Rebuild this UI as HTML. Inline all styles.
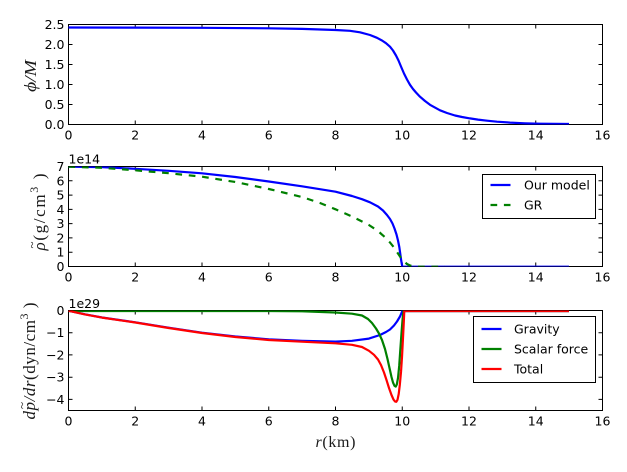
<!DOCTYPE html>
<html><head><meta charset="utf-8"><style>
html,body{margin:0;padding:0;background:#fff;}
svg{display:block;}
.tk{font-family:"DejaVu Sans","Liberation Sans",sans-serif;font-size:12.5px;fill:#000;}
.ml{font-family:"Liberation Serif",serif;fill:#1a1a1a;}
</style></head><body>
<svg width="627" height="472" viewBox="0 0 627 472" xmlns="http://www.w3.org/2000/svg">
<defs>
<clipPath id="ca"><rect x="68.5" y="24.5" width="534" height="100"/></clipPath>
<clipPath id="cb"><rect x="68.5" y="166.5" width="534" height="100"/></clipPath>
<clipPath id="cc"><rect x="68.5" y="310.5" width="534" height="100"/></clipPath>
</defs>
<rect width="627" height="472" fill="#fff"/>

<!-- ===== Panel A ===== -->
<g stroke="#000" stroke-width="1" fill="none">
<rect x="68.5" y="24.5" width="534" height="100"/>
<path d="M68.5,124.5v-4M135.25,124.5v-4M202,124.5v-4M268.75,124.5v-4M335.5,124.5v-4M402.25,124.5v-4M469,124.5v-4M535.75,124.5v-4M602.5,124.5v-4
M68.5,24.5v4M135.25,24.5v4M202,24.5v4M268.75,24.5v4M335.5,24.5v4M402.25,24.5v4M469,24.5v4M535.75,24.5v4M602.5,24.5v4
M68.5,104.5h4M68.5,84.5h4M68.5,64.5h4M68.5,44.5h4M602.5,104.5h-4M602.5,84.5h-4M602.5,64.5h-4M602.5,44.5h-4"/>
</g>
<g class="tk" text-anchor="end">
<text x="64.5" y="129">0.0</text><text x="64.5" y="109">0.5</text><text x="64.5" y="89">1.0</text>
<text x="64.5" y="69">1.5</text><text x="64.5" y="49">2.0</text><text x="64.5" y="29">2.5</text>
</g>
<g class="tk" text-anchor="middle">
<text x="68.5" y="139.5">0</text><text x="135.25" y="139.5">2</text><text x="202" y="139.5">4</text>
<text x="268.75" y="139.5">6</text><text x="335.5" y="139.5">8</text><text x="402.25" y="139.5">10</text>
<text x="469" y="139.5">12</text><text x="535.75" y="139.5">14</text><text x="602.5" y="139.5">16</text>
</g>
<g clip-path="url(#ca)" fill="none" stroke-width="2.2" stroke-linejoin="round">
<path stroke="#0000ff" d="M68.5,27.5 L135,27.6 L202,27.8 L268.8,28.3 L302,28.9 L335.5,30 L350,30.8 L360,32.3 L370,35 L377,37.8 L382,40.5 L386,43.2 L390,46.7 L393,50.5 L396,55.5 L398.5,60.5 L401,66.5 L404,73.5 L407,79.5 L410,84.8 L413,89 L416,92.5 L420,96.7 L425,101 L430,104.8 L435,107.6 L440,110.3 L447,113 L455,115.5 L462,117 L470,118.4 L478,119.6 L487,120.7 L497,121.7 L510,122.6 L525,123.3 L540,123.7 L555,123.9 L569,124"/>
</g>
<text class="ml" font-style="italic" font-size="17" text-anchor="middle" transform="translate(36,76) rotate(-90)" textLength="32" lengthAdjust="spacingAndGlyphs">ϕ/M</text>

<!-- ===== Panel B ===== -->
<g stroke="#000" stroke-width="1" fill="none">
<rect x="68.5" y="166.5" width="534" height="100"/>
<path d="M68.5,266.5v-4M135.25,266.5v-4M202,266.5v-4M268.75,266.5v-4M335.5,266.5v-4M402.25,266.5v-4M469,266.5v-4M535.75,266.5v-4M602.5,266.5v-4
M68.5,166.5v4M135.25,166.5v4M202,166.5v4M268.75,166.5v4M335.5,166.5v4M402.25,166.5v4M469,166.5v4M535.75,166.5v4M602.5,166.5v4
M68.5,252.21h4M68.5,237.93h4M68.5,223.64h4M68.5,209.36h4M68.5,195.07h4M68.5,180.79h4
M602.5,252.21h-4M602.5,237.93h-4M602.5,223.64h-4M602.5,209.36h-4M602.5,195.07h-4M602.5,180.79h-4"/>
</g>
<g class="tk" text-anchor="end">
<text x="64.5" y="271">0</text><text x="64.5" y="256.7">1</text><text x="64.5" y="242.4">2</text>
<text x="64.5" y="228.1">3</text><text x="64.5" y="213.9">4</text><text x="64.5" y="199.6">5</text>
<text x="64.5" y="185.3">6</text><text x="64.5" y="171">7</text>
</g>
<text class="tk" x="68.5" y="163.5">1e14</text>
<g class="tk" text-anchor="middle">
<text x="68.5" y="281.5">0</text><text x="135.25" y="281.5">2</text><text x="202" y="281.5">4</text>
<text x="268.75" y="281.5">6</text><text x="335.5" y="281.5">8</text><text x="402.25" y="281.5">10</text>
<text x="469" y="281.5">12</text><text x="535.75" y="281.5">14</text><text x="602.5" y="281.5">16</text>
</g>
<g clip-path="url(#cb)" fill="none" stroke-width="2.2" stroke-linejoin="round">
<path stroke="#0000ff" d="M68.5,166.7 L102,167.2 L135.3,168.8 L168.6,170.8 L202,173.3 L235.4,177 L268.8,181.5 L302,186.3 L335.5,191.7 L352,196 L362,199.2 L370,202.3 L378,206.5 L383,210.5 L387,215 L390,219 L392.5,223.5 L394.5,228.5 L396.5,234.5 L398,240.5 L399.3,247 L400.3,254 L401.2,260.5 L402.3,266.7 L569,266.7"/>
<path stroke="#008000" stroke-dasharray="6.7,6.7" d="M68.5,166.7 L102,167.8 L135.3,170.3 L168.6,173.2 L202,176.7 L235.4,182 L268.8,189 L302,197 L320,203 L335.5,209.3 L352,216.5 L368.9,225 L378,231 L385,237.3 L390,242.5 L394,247.5 L398,253.5 L401,258 L404,261.5 L407,264 L410,265.5 L414,266.3 L420,266.7 L445,266.7"/>
</g>
<rect x="482.5" y="174.5" width="113" height="44" fill="#fff" stroke="#000" stroke-width="1"/>
<path d="M490.5,185H510.5" stroke="#0000ff" stroke-width="2.2"/>
<path d="M490.5,205H510.5" stroke="#008000" stroke-width="2.2" stroke-dasharray="6.7,6.7"/>
<text class="tk" x="524" y="189.5">Our model</text>
<text class="tk" x="524" y="209.5">GR</text>
<g transform="translate(45,212) rotate(-90)">
<text class="ml" font-size="17" text-anchor="middle" x="0" y="0" textLength="77" lengthAdjust="spacing"><tspan font-style="italic">ρ</tspan>(g/cm<tspan font-size="12" dy="-7">3</tspan><tspan dy="7"> )</tspan></text>
<text class="ml" font-size="13" x="-36.5" y="-9">~</text>
</g>

<!-- ===== Panel C ===== -->
<g stroke="#000" stroke-width="1" fill="none">
<rect x="68.5" y="310.5" width="534" height="100"/>
<path d="M68.5,410.5v-4M135.25,410.5v-4M202,410.5v-4M268.75,410.5v-4M335.5,410.5v-4M402.25,410.5v-4M469,410.5v-4M535.75,410.5v-4M602.5,410.5v-4
M68.5,310.5v4M135.25,310.5v4M202,310.5v4M268.75,310.5v4M335.5,310.5v4M402.25,310.5v4M469,310.5v4M535.75,310.5v4M602.5,310.5v4
M68.5,332.7h4M68.5,354.9h4M68.5,377.2h4M68.5,399.4h4
M602.5,332.7h-4M602.5,354.9h-4M602.5,377.2h-4M602.5,399.4h-4"/>
</g>
<g class="tk" text-anchor="end">
<text x="64.5" y="315">0</text><text x="64.5" y="337.2">−1</text><text x="64.5" y="359.4">−2</text>
<text x="64.5" y="381.7">−3</text><text x="64.5" y="403.9">−4</text>
</g>
<text class="tk" x="68.5" y="308">1e29</text>
<g class="tk" text-anchor="middle">
<text x="68.5" y="425.5">0</text><text x="135.25" y="425.5">2</text><text x="202" y="425.5">4</text>
<text x="268.75" y="425.5">6</text><text x="335.5" y="425.5">8</text><text x="402.25" y="425.5">10</text>
<text x="469" y="425.5">12</text><text x="535.75" y="425.5">14</text><text x="602.5" y="425.5">16</text>
</g>
<g clip-path="url(#cc)" fill="none" stroke-width="2.2" stroke-linejoin="round">
<path stroke="#0000ff" d="M68.5,310.8 L85,314.3 L102,317.5 L135.3,322.3 L168.6,327.7 L202,332.7 L235.4,336.5 L268.8,339.3 L302,340.8 L335.5,341.6 L352,340.8 L368.9,338.6 L380,335 L386,332 L390,329.5 L394,325.5 L397,321.5 L400,316.5 L402.3,311 L569,311"/>
<path stroke="#008000" d="M68.5,311 L268.8,311 L302,311.3 L335.5,312.5 L352,313.7 L362,315.5 L368,319 L372,323 L376,328.5 L379,333.5 L382,340 L385,349 L387.5,359 L389.5,368 L391.5,377 L393,382.5 L394.5,385.8 L395.7,386.6 L396.8,384.5 L398,378 L399.2,366 L400.3,350 L401.5,333 L402.6,319 L403.5,311 L569,311"/>
<path stroke="#ff0000" d="M68.5,310.8 L85,314.4 L102,317.6 L135.3,322.5 L168.6,328 L202,333 L235.4,337 L268.8,340 L302,341.7 L335.5,343.3 L352,344.8 L362,347 L369,350.8 L374,354.8 L378,359.5 L381,365 L384,372.5 L386.5,380 L389,388 L391.5,395 L393.5,399.6 L395,401.4 L396.3,401.8 L397.5,399.8 L398.7,394 L399.8,385 L401,372 L402,357 L403,338 L403.8,322 L404.3,311 L569,311"/>
</g>
<rect x="473.5" y="316.5" width="122" height="66" fill="#fff" stroke="#000" stroke-width="1"/>
<path d="M481.5,329H501.5" stroke="#0000ff" stroke-width="2.2"/>
<path d="M481.5,349H501.5" stroke="#008000" stroke-width="2.2"/>
<path d="M481.5,369H501.5" stroke="#ff0000" stroke-width="2.2"/>
<text class="tk" x="514" y="333.5">Gravity</text>
<text class="tk" x="514" y="353.5">Scalar force</text>
<text class="tk" x="514" y="373.5">Total</text>
<g transform="translate(35,361) rotate(-90)">
<text class="ml" font-size="17" text-anchor="middle" x="0" y="0" textLength="117" lengthAdjust="spacing"><tspan font-style="italic">dp/dr</tspan>(dyn/cm<tspan font-size="12" dy="-7">3</tspan><tspan dy="7"> )</tspan></text>
<text class="ml" font-size="13" x="-48" y="-9">~</text>
</g>

<text class="ml" font-size="16" text-anchor="middle" x="335.5" y="447" textLength="40" lengthAdjust="spacing"><tspan font-style="italic">r</tspan>(km)</text>
</svg>
</body></html>
